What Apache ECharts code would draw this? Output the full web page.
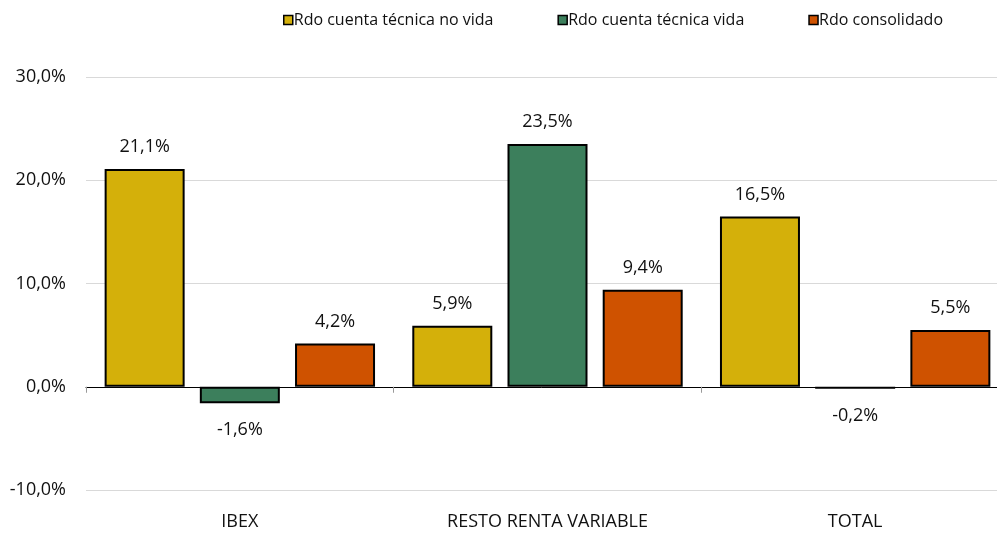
<!DOCTYPE html>
<html>
<head>
<meta charset="utf-8">
<script src="https://cdn.jsdelivr.net/npm/echarts@6/dist/echarts.min.js"></script>
<style>
  html, body { margin: 0; padding: 0; background: #fff; }
  #chart { width: 997px; height: 533px; }
</style>
</head>
<body>
<div id="chart"></div>
<script>
// Categories and series (percent values)
const categories = ['IBEX', 'RESTO RENTA VARIABLE', 'TOTAL'];
const seriesNames = ['Rdo cuenta técnica no vida', 'Rdo cuenta técnica vida', 'Rdo consolidado'];
const noVida = [21.1, 5.9, 16.5];
const vida = [-1.6, 23.5, -0.2];
const consolidado = [4.2, 9.4, 5.5];
const yTicks = [-10, 0, 10, 20, 30];

const colors = ['#D4B00A', '#3C7F5C', '#CF5200'];
const FONT = 'Open Sans';

const fmt = v => v.toFixed(1).replace('.', ',') + '%';

function makeSeries(name, values, color) {
  return {
    name: name,
    type: 'bar',
    barWidth: 80,
    barGap: '19%',
    itemStyle: { color: color, borderColor: '#000', borderWidth: 2 },
    label: {
      show: true,
      position: 'top',
      distance: 13,
      color: '#111',
      fontFamily: FONT,
      fontSize: 18,
      formatter: p => fmt(p.value)
    },
    data: values.map(v => v < 0
      ? { value: v, label: { position: 'bottom', distance: 18 } }
      : { value: v })
  };
}

const chart = echarts.init(document.getElementById('chart'));
chart.setOption({
  animation: false,
  textStyle: { fontFamily: FONT },
  legend: {
    top: 7,
    left: 278,
    itemWidth: 9,
    itemHeight: 9,
    itemGap: 64,
    icon: 'rect',
    itemStyle: { borderColor: '#000', borderWidth: 1.5 },
    textStyle: { fontFamily: FONT, fontSize: 16, color: '#111', padding: [0, 0, 0, -4] },
    data: seriesNames
  },
  grid: { left: 86, right: -12, top: 77, bottom: 43, containLabel: false, outerBoundsMode: 'none' },
  xAxis: {
    type: 'category',
    data: categories,
    axisLine: { onZero: true, lineStyle: { color: '#000', width: 1 } },
    axisTick: { show: true, length: 6, lineStyle: { color: '#999' } },
    axisLabel: { margin: 23, color: '#111', fontFamily: FONT, fontSize: 18 }
  },
  yAxis: {
    type: 'value',
    min: yTicks[0],
    max: yTicks[yTicks.length - 1],
    interval: 10,
    axisLine: { show: false },
    axisTick: { show: false },
    splitLine: { lineStyle: { color: '#d9d9d9', width: 1 } },
    axisLabel: { margin: 20, color: '#111', fontFamily: FONT, fontSize: 18, formatter: fmt }
  },
  series: [
    makeSeries(seriesNames[0], noVida, colors[0]),
    makeSeries(seriesNames[1], vida, colors[1]),
    makeSeries(seriesNames[2], consolidado, colors[2])
  ]
});
</script>
</body>
</html>
